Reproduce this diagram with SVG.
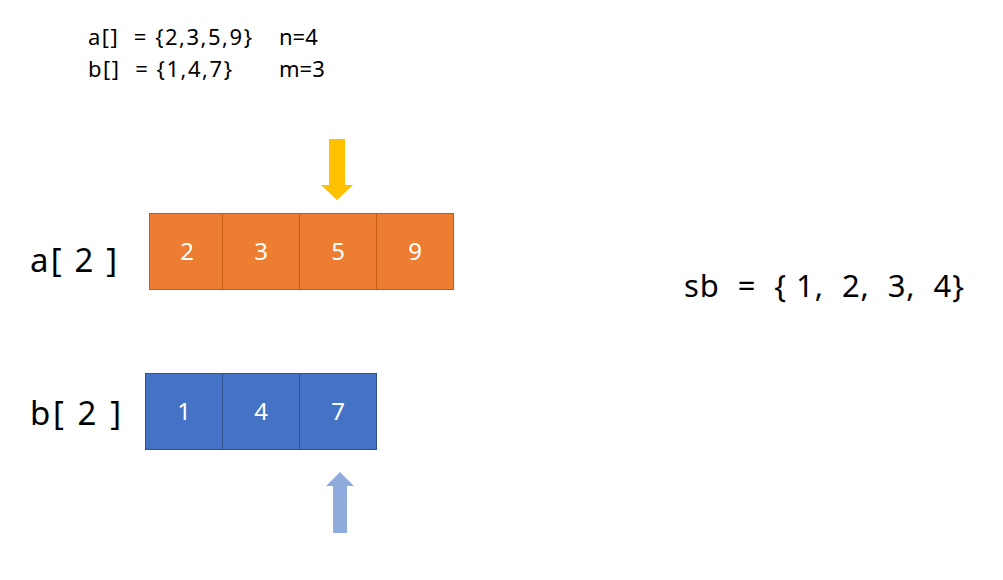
<svg xmlns="http://www.w3.org/2000/svg" width="1003" height="580" viewBox="0 0 1003 580">
<style>
text{font-family:"Noto Sans","Open Sans","Liberation Sans",sans-serif;fill:#000}
.s{font-size:22px}
.l{font-size:33px}
.m{font-size:31px}
.c{font-size:24px;fill:#fff;text-anchor:middle}
.o{fill:#ED7D31;stroke:#C55A11;stroke-width:1}
.b{fill:#4472C4;stroke:#2F528F;stroke-width:1}
</style>
<rect width="1003" height="580" fill="#fff"/>
<g id="info">
<text class="s" x="88" y="45" xml:space="preserve" textLength="164" lengthAdjust="spacing">a[]  = {2,3,5,9}</text>
<text class="s" x="88" y="77" xml:space="preserve" textLength="144" lengthAdjust="spacing">b[]  = {1,4,7}</text>
<text class="s" x="279" y="45">n=4</text>
<text class="s" x="279" y="77">m=3</text>
</g>
<g id="labelA"><text class="l" x="30" y="272" xml:space="preserve" textLength="87" lengthAdjust="spacing">a[ 2 ]</text></g>
<g id="labelB"><text class="l" x="30" y="425" xml:space="preserve" textLength="91" lengthAdjust="spacing">b[ 2 ]</text></g>
<g id="sb"><text class="m" x="684" y="297" xml:space="preserve" textLength="280" lengthAdjust="spacing">sb  =  { 1,  2,  3,  4}</text></g>
<g id="arrA">
<rect class="o" x="149.5" y="213.5" width="73" height="76"/>
<rect class="o" x="222.5" y="213.5" width="77" height="76"/>
<rect class="o" x="299.5" y="213.5" width="77" height="76"/>
<rect class="o" x="376.5" y="213.5" width="77" height="76"/>
<text class="c" x="187" y="260">2</text>
<text class="c" x="261" y="260">3</text>
<text class="c" x="338" y="260">5</text>
<text class="c" x="415" y="260">9</text>
</g>
<g id="arrB">
<rect class="b" x="145.5" y="373.5" width="77" height="76"/>
<rect class="b" x="222.5" y="373.5" width="77" height="76"/>
<rect class="b" x="299.5" y="373.5" width="77" height="76"/>
<text class="c" x="184" y="420">1</text>
<text class="c" x="261" y="420">4</text>
<text class="c" x="338" y="420">7</text>
</g>
<g id="connectors">
<polygon fill="#FFC000" points="329,139 345,139 345,185 353,185 337,200 321,185 329,185"/>
<polygon fill="#8FAADC" points="340,472 354,486 347,486 347,533 333,533 333,486 326,486"/>
</g>
</svg>
